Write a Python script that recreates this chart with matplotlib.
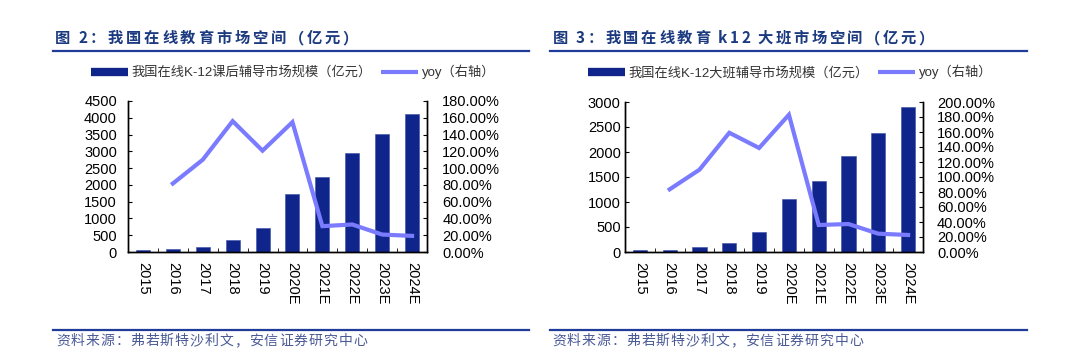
import numpy as np
import matplotlib
matplotlib.use("Agg")
import matplotlib.pyplot as plt
from matplotlib.lines import Line2D
from matplotlib.ticker import FuncFormatter, MultipleLocator

plt.rcParams['font.family'] = ['Liberation Sans', 'Noto Sans CJK SC']

# Data
years = ['2015', '2016', '2017', '2018', '2019', '2020E', '2021E', '2022E', '2023E', '2024E']

after_school = [60, 100, 150, 350, 720, 1730, 2230, 2940, 3510, 4120]
after_school_yoy = [np.nan, 81.6, 110.0, 156.0, 120.8, 154.8, 30.8, 32.8, 20.8, 19.2]

big_class = [40, 40, 100, 180, 400, 1060, 1420, 1920, 2390, 2910]
big_class_yoy = [np.nan, 83.6, 109.8, 159.0, 138.7, 183.0, 36.0, 37.3, 24.4, 22.7]

W, H = 1080, 361
BAR = '#0f258c'
LINE = '#7b7bff'
TITLE_BLUE = '#1c3a80'
RULE_BLUE = '#1f3c98'

fig = plt.figure(figsize=(W / 100, H / 100), dpi=100)
renderer = fig.canvas.get_renderer()


def fx(px):
    return px / W


def fy(py):
    return 1 - py / H


def spaced_text(x0, x1, y_base, s, **kw):
    """Draw s char by char so it spans x0..x1 pixels (letter spacing)."""
    em = kw.get('fontsize', 10) * 100 / 72
    texts, widths = [], []
    for ch in s:
        t = fig.text(0, fy(y_base), ch, va='baseline', ha='left', **kw)
        if ch == ' ':
            w = em * 0.15
        elif ord(ch) > 0x2E80:
            w = em  # full-width glyph
        else:
            w = t.get_window_extent(renderer).width
        texts.append(t)
        widths.append(w)
    gap = (x1 - x0 - sum(widths)) / max(len(s) - 1, 1)
    x = x0
    for t, w in zip(texts, widths):
        t.set_x(fx(x))
        x += w + gap


def draw_panel(left_px, right_px, top_px, bottom_px, values, yoy, ymax, ystep,
               y2max, y2step, label, legend_cx, lpad, rpad):
    ax = fig.add_axes([fx(left_px), fy(bottom_px), fx(right_px - left_px),
                       (bottom_px - top_px) / H])
    x = np.arange(len(years))
    ax.bar(x, values, width=0.47, color=BAR, edgecolor='#3a4fa8', linewidth=0.4, zorder=2)
    ax.set_xlim(-0.5, len(years) - 0.5)
    ax.set_ylim(0, ymax)
    ax.yaxis.set_major_locator(MultipleLocator(ystep))
    ax.set_xticks(x)
    ax.set_xticklabels(years, rotation=270, fontsize=10.5)
    ax.set_xticks(np.arange(-0.5, len(years), 1), minor=True)
    ax.tick_params(axis='x', which='major', length=0, pad=7)
    ax.tick_params(axis='x', which='minor', length=3, direction='in')
    ax.tick_params(axis='y', direction='in', length=3, labelsize=10.5, pad=lpad)
    ax.spines['top'].set_visible(False)

    ax2 = ax.twinx()
    ax2.plot(x, yoy, color=LINE, lw=3, solid_joinstyle='miter', zorder=3)
    ax2.set_ylim(0, y2max)
    ax2.yaxis.set_major_locator(MultipleLocator(y2step))
    ax2.yaxis.set_major_formatter(FuncFormatter(lambda v, p: f'{v:.2f}%'))
    ax2.tick_params(axis='y', direction='in', length=3, labelsize=10.5, pad=rpad)
    ax2.spines['top'].set_visible(False)
    for a in (ax, ax2):
        for sp in a.spines.values():
            sp.set_linewidth(1.0)
            sp.set_color('black')

    # legend above the panel
    handles = [Line2D([0], [0], color=BAR, lw=6, solid_capstyle='butt'),
               Line2D([0], [0], color=LINE, lw=3, solid_capstyle='butt')]
    lg = fig.legend(handles, [label, 'yoy（右轴）'], loc='center',
                    bbox_to_anchor=(fx(legend_cx), fy(72)), ncol=2, frameon=False,
                    fontsize=9.5, handlelength=2.8, handletextpad=0.3,
                    columnspacing=0.7, borderpad=0)
    for t in lg.get_texts():
        t.set_color('#333333')
    return ax, ax2


draw_panel(128, 427, 101, 252, after_school, after_school_yoy,
           4500, 500, 180, 20, '我国在线K-12课后辅导市场规模（亿元）', 293, 8, 11)
draw_panel(625, 923, 102, 252, big_class, big_class_yoy,
           3000, 500, 200, 20, '我国在线K-12大班辅导市场规模（亿元）', 790, 3, 10)

# titles
spaced_text(55, 358, 43, '图 2：我国在线教育市场空间（亿元）',
            fontsize=11, fontweight='bold', color=TITLE_BLUE,
            family=['Noto Sans CJK SC'])
spaced_text(553, 934, 43, '图 3：我国在线教育 k12 大班市场空间（亿元）',
            fontsize=11, fontweight='bold', color=TITLE_BLUE,
            family=['Noto Sans CJK SC'])

# rules
for x0, x1 in [(53, 529), (550, 1027)]:
    for y in (51, 330):
        fig.add_artist(Line2D([fx(x0), fx(x1)], [fy(y), fy(y)], color=RULE_BLUE,
                              lw=1.6, transform=fig.transFigure))

# source notes
for x0 in (56, 552):
    spaced_text(x0, x0 + 311, 345, '资料来源：弗若斯特沙利文，安信证券研究中心',
                fontsize=10, color='#4a5a96', family=['Noto Sans CJK SC'])

fig.savefig('out.png', dpi=100)
